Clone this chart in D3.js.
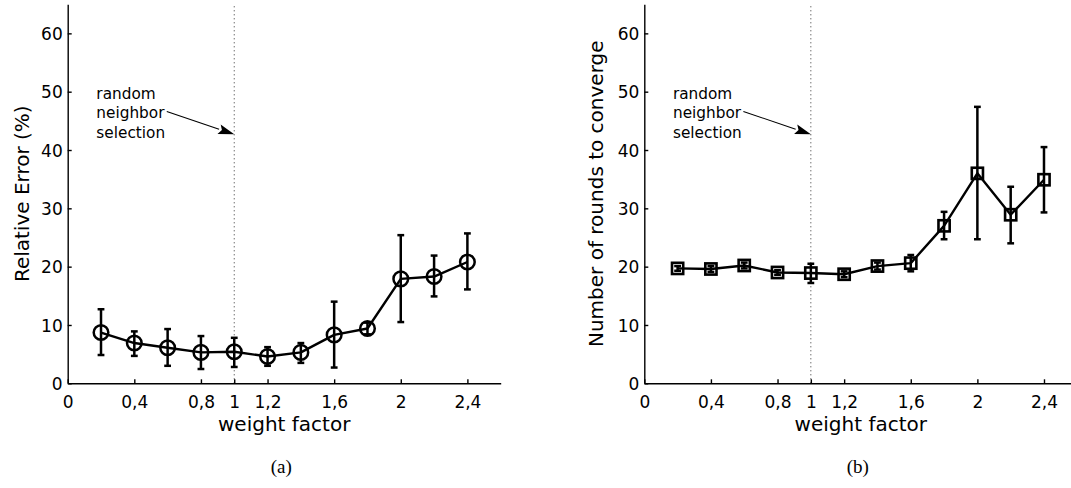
<!DOCTYPE html>
<meta charset="utf-8">
<script src="https://d3js.org/d3.v7.min.js"></script>
<style>
  body { margin: 0; background: #fff; }
  text { font-family: "DejaVu Sans", sans-serif; fill: #000; }
</style>
<div id="chart"></div>
<script>
// weight factor values (x) shared by both panels
var weights = [0.2, 0.4, 0.6, 0.8, 1.0, 1.2, 1.4, 1.6, 1.8, 2.0, 2.2, 2.4];

// (a) relative error (%)
var errMean = [8.7, 6.9, 6.1, 5.3, 5.4, 4.6, 5.3, 8.3, 9.4, 17.9, 18.3, 20.8];
var errLow  = [4.85, 4.7, 3.0, 2.45, 2.8, 3.0, 3.5, 2.7, 8.4, 10.5, 14.9, 16.1];
var errHigh = [12.7, 8.9, 9.3, 8.1, 7.8, 6.2, 6.9, 14.0, 10.4, 25.4, 21.9, 25.7];

// (b) number of rounds to converge
var roundsMean = [19.7, 19.6, 20.2, 19.0, 18.9, 18.7, 20.1, 20.6, 27.0, 36.0, 28.9, 34.9];
var roundsLow  = [19.3, 19.1, 19.7, 18.6, 17.2, 18.2, 19.5, 19.2, 24.7, 24.7, 24.0, 29.3];
var roundsHigh = [20.1, 20.1, 20.7, 19.4, 20.5, 19.2, 20.7, 22.0, 29.4, 47.4, 33.7, 40.5];

// ticks
var xTicks = [0, 0.4, 0.8, 1, 1.2, 1.6, 2, 2.4];
var yTicks = [0, 10, 20, 30, 40, 50, 60];
var xDomain = [0, 2.6];
var yDomain = [0, 65];

// annotation text and anchor (data units)
var noteLines = ["random", "neighbor", "selection"];
var noteAt = [0.172, 48.8];
var arrowFrom = [0.595, 46.6];
var arrowTo = [1.0, 42.7];
var dividerX = 1;

var W = 1071, H = 488;
var svg = d3.select("#chart").append("svg")
  .attr("width", W).attr("height", H);

var fmt = function(d) { return String(d).replace(".", ","); };

function drawPanel(opt) {
  var x = d3.scaleLinear().domain(xDomain).range([opt.left, opt.left + 433]);
  var y = d3.scaleLinear().domain(yDomain).range([383.3, 4.2]);
  var g = svg.append("g");

  // dotted vertical line at weight factor 1
  g.append("line")
    .attr("x1", x(dividerX)).attr("x2", x(dividerX))
    .attr("y1", y(yDomain[0])).attr("y2", y(yDomain[1]))
    .attr("stroke", "#333").attr("stroke-width", 1)
    .attr("stroke-dasharray", "1,3");

  // x axis
  var xa = g.append("g")
    .attr("transform", "translate(0," + y(0) + ")")
    .call(d3.axisBottom(x).tickValues(xTicks).tickFormat(fmt)
      .tickSizeInner(-4).tickSizeOuter(0));
  xa.selectAll("text").attr("y", 25).attr("dy", null).style("font-size", "17px");

  // y axis
  var ya = g.append("g")
    .attr("transform", "translate(" + x(0) + ",0)")
    .call(d3.axisLeft(y).tickValues(yTicks)
      .tickSizeInner(-4).tickSizeOuter(0).tickPadding(5));
  ya.selectAll("text").attr("dy", "0.37em").style("font-size", "17px");

  g.selectAll(".domain, .tick line").attr("stroke", "#000").attr("stroke-width", 1.4);
  g.selectAll(".tick text").style("font-family", "DejaVu Sans");

  // axis labels
  g.append("text")
    .attr("x", (x.range()[0] + x.range()[1]) / 2).attr("y", 431)
    .attr("text-anchor", "middle").style("font-size", "20px")
    .text("weight factor");
  g.append("text")
    .attr("transform", "translate(" + opt.ylabelX + "," + y(32.5) + ") rotate(-90)")
    .attr("text-anchor", "middle").style("font-size", "20px")
    .text(opt.ylabel);

  // annotation
  var note = g.append("text")
    .attr("x", x(noteAt[0])).attr("y", y(noteAt[1]))
    .style("font-size", "15.3px");
  note.selectAll("tspan").data(noteLines).enter().append("tspan")
    .attr("x", x(noteAt[0]))
    .attr("dy", function(d, i) { return i === 0 ? 0 : 19.5; })
    .text(function(d) { return d; });

  var x1 = x(arrowFrom[0]), y1 = y(arrowFrom[1]);
  var x2 = x(arrowTo[0]), y2 = y(arrowTo[1]);
  var ang = Math.atan2(y2 - y1, x2 - x1);
  var hl = 16, hw = 5;
  var bx = x2 - hl * Math.cos(ang), by = y2 - hl * Math.sin(ang);
  g.append("line")
    .attr("x1", x1).attr("y1", y1).attr("x2", bx).attr("y2", by)
    .attr("stroke", "#000").attr("stroke-width", 1.1);
  g.append("path")
    .attr("d", "M" + x2 + "," + y2 +
      "L" + (bx + hw * Math.sin(ang)) + "," + (by - hw * Math.cos(ang)) +
      "L" + (bx + 3 * Math.cos(ang)) + "," + (by + 3 * Math.sin(ang)) +
      "L" + (bx - hw * Math.sin(ang)) + "," + (by + hw * Math.cos(ang)) + "Z")
    .attr("fill", "#000");

  // error bars
  var bars = g.append("g").attr("stroke", "#000").attr("stroke-width", 2.5);
  weights.forEach(function(w, i) {
    var cx = x(w), lo = y(opt.low[i]), hi = y(opt.high[i]);
    bars.append("line").attr("x1", cx).attr("x2", cx).attr("y1", lo).attr("y2", hi);
    bars.append("line").attr("x1", cx - 3.4).attr("x2", cx + 3.4).attr("y1", lo).attr("y2", lo);
    bars.append("line").attr("x1", cx - 3.4).attr("x2", cx + 3.4).attr("y1", hi).attr("y2", hi);
  });

  // mean line
  g.append("path")
    .datum(weights.map(function(w, i) { return [w, opt.mean[i]]; }))
    .attr("fill", "none").attr("stroke", "#000").attr("stroke-width", 2.4)
    .attr("stroke-linejoin", "round")
    .attr("d", d3.line().x(function(d) { return x(d[0]); }).y(function(d) { return y(d[1]); }));

  // markers
  var pts = weights.map(function(w, i) { return [w, opt.mean[i]]; });
  if (opt.marker === "circle") {
    g.selectAll(".mk").data(pts).enter().append("circle")
      .attr("cx", function(d) { return x(d[0]); })
      .attr("cy", function(d) { return y(d[1]); })
      .attr("r", 7.3)
      .attr("fill", "none").attr("stroke", "#000").attr("stroke-width", 2.5);
  } else {
    g.selectAll(".mk").data(pts).enter().append("rect")
      .attr("x", function(d) { return x(d[0]) - 5.6; })
      .attr("y", function(d) { return y(d[1]) - 5.6; })
      .attr("width", 11.2).attr("height", 11.2)
      .attr("fill", "none").attr("stroke", "#000").attr("stroke-width", 2.6);
  }

  // caption
  svg.append("text")
    .attr("x", (x.range()[0] + x.range()[1]) / 2 - 3).attr("y", 473)
    .attr("text-anchor", "middle")
    .style("font-family", "Liberation Serif, serif").style("font-size", "19px")
    .text(opt.caption);
}

drawPanel({ left: 67.7, ylabel: "Relative Error (%)", ylabelX: 29,
  mean: errMean, low: errLow, high: errHigh, marker: "circle", caption: "(a)" });
drawPanel({ left: 644.3, ylabel: "Number of rounds to converge", ylabelX: 603,
  mean: roundsMean, low: roundsLow, high: roundsHigh, marker: "square", caption: "(b)" });
</script>
